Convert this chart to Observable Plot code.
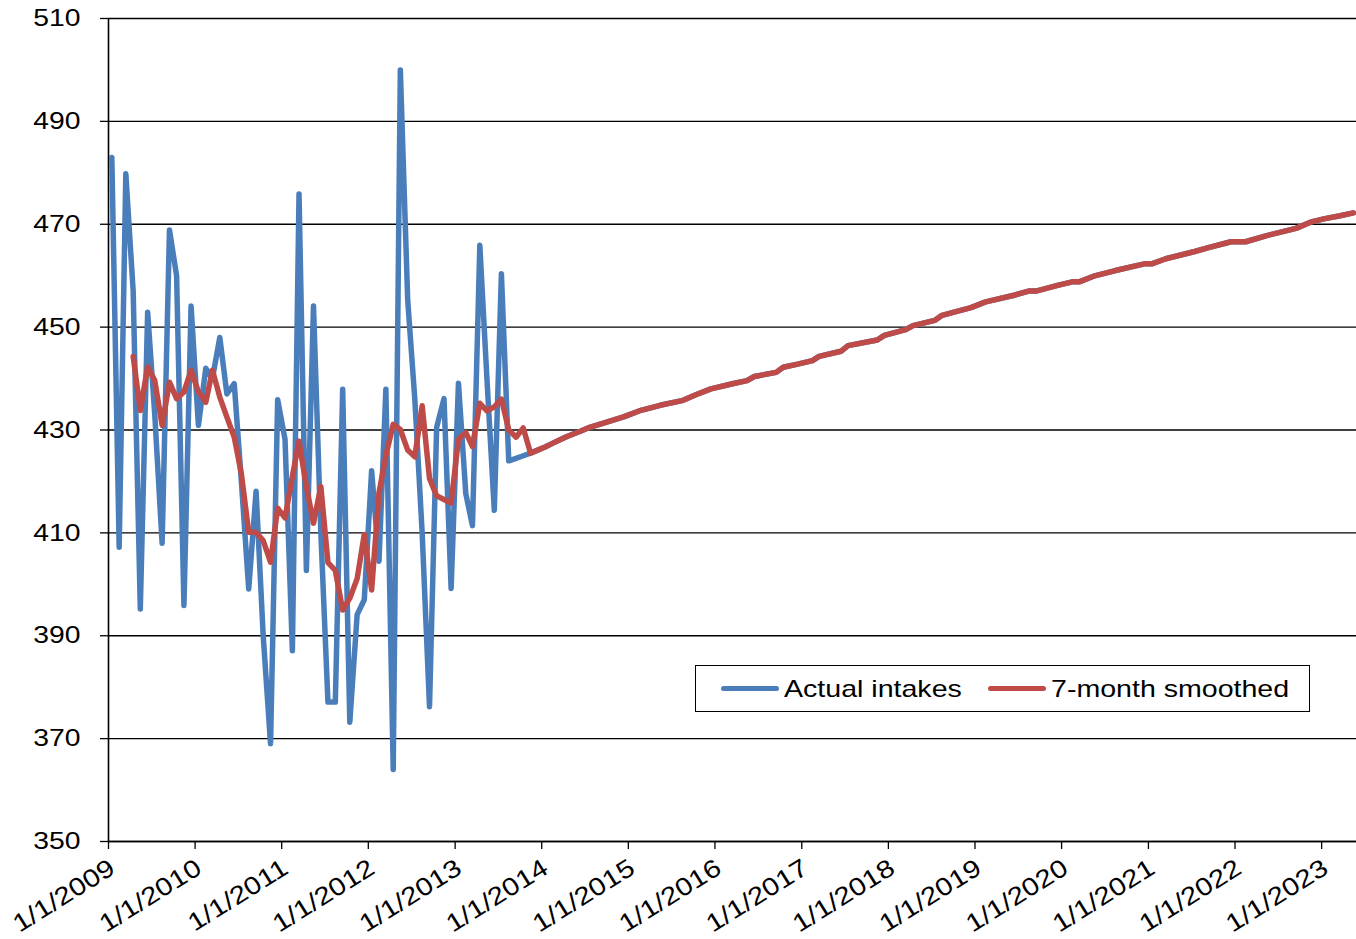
<!DOCTYPE html>
<html>
<head>
<meta charset="utf-8">
<script src="https://cdn.jsdelivr.net/npm/d3@7"></script>
<script src="https://cdn.jsdelivr.net/npm/@observablehq/plot@0.6"></script>
<style>
  body { margin: 0; background: #fff; }
  #wrap { position: relative; width: 1356px; height: 939px; font-family: "Liberation Sans", Arial, sans-serif; }
  #legend { position: absolute; left: 695px; top: 665px; width: 613px; height: 45px; border: 1.5px solid #000; background: #fff; }
  .item { position: absolute; top: 0; height: 45px; display: flex; align-items: center; }
  .sw { width: 58px; height: 5px; border-radius: 2.5px; }
  .lab { font-size: 24px; transform: scaleX(1.19); transform-origin: left center; white-space: nowrap; color: #000; margin-left: 5px; }
</style>
</head>
<body>
<div id="wrap">
  <div id="chart"></div>
  <div id="legend">
    <div class="item" style="left:25px"><div class="sw" style="background:#4A7EBB"></div><span class="lab">Actual intakes</span></div>
    <div class="item" style="left:292px"><div class="sw" style="background:#BE4B48"></div><span class="lab">7-month smoothed</span></div>
  </div>
</div>
<script>
// ---------- data ----------
const startYear = 2009;            // first month of the monthly series: January 2009
const actualIntakes = [            // monthly, Jan 2009 .. Oct 2013
  483.0, 407.2, 479.8, 457.0, 395.2, 452.9, 433.0, 408.0, 468.9, 460.0, 395.9, 454.1,
  430.9, 442.0, 440.0, 448.0, 437.0, 439.0, 420.0, 399.1, 418.1, 390.0, 369.0, 435.9,
  428.2, 387.1, 475.9, 402.7, 454.1, 410.0, 377.1, 377.1, 437.9, 373.2, 394.1, 397.0,
  422.1, 404.5, 437.9, 364.0, 500.0, 455.3, 436.0, 410.0, 376.2, 430.5, 436.1, 399.2,
  439.1, 417.6, 411.4, 465.9, 440.0, 414.4, 460.4, 424.0, 424.5, 425.0
];
const smoothedFirstMonth = 3;      // smoothed series starts April 2009
const smoothed = [                 // monthly, Apr 2009 .. Oct 2013
  444.3, 433.8, 442.3, 439.6, 430.9, 439.3, 436.1, 437.4, 441.6,
  437.4, 435.4, 441.6, 436.4, 432.5, 428.6, 421.5, 410.1, 410.1, 408.5, 404.3, 414.8,
  412.9, 421.0, 427.8, 419.0, 411.9, 419.0, 404.2, 402.7, 395.0, 397.3, 401.1, 409.7,
  398.9, 417.8, 425.0, 431.1, 430.1, 426.1, 424.8, 434.7, 420.6, 417.2, 416.5, 415.8,
  428.2, 429.5, 426.8, 435.2, 433.7, 434.5, 436.0, 430.0, 428.6, 430.4
];
const forecastMonths = [
  "2013-11","2014-01","2014-02","2014-04","2014-06","2014-07","2014-09","2014-12","2015-02","2015-05",
  "2015-08","2015-10","2015-12","2016-03","2016-05","2016-06","2016-09","2016-10","2016-12","2017-02",
  "2017-03","2017-06","2017-07","2017-11","2017-12","2018-03","2018-04","2018-07","2018-08","2018-12",
  "2019-02","2019-06","2019-08","2019-09","2019-12","2020-02","2020-03","2020-05","2020-08","2020-12",
  "2021-01","2021-03","2021-07","2021-09","2021-12","2022-02","2022-05","2022-09","2022-11","2023-01",
  "2023-03","2023-05"
];
const forecastValues = [
  425.5, 426.7, 427.4, 428.7, 429.8, 430.4, 431.3, 432.6, 433.7, 434.8,
  435.7, 436.9, 438.0, 439.0, 439.6, 440.4, 441.2, 442.2, 442.8, 443.5,
  444.3, 445.3, 446.4, 447.5, 448.4, 449.5, 450.3, 451.3, 452.3, 453.8,
  454.9, 456.2, 457.0, 457.0, 458.1, 458.8, 458.8, 459.9, 461.0, 462.3,
  462.3, 463.3, 464.7, 465.5, 466.6, 466.6, 467.8, 469.2, 470.4, 471.1,
  471.6, 472.2
];
const yTicks = [350, 370, 390, 410, 430, 450, 470, 490, 510];
const tickYears = [2009,2010,2011,2012,2013,2014,2015,2016,2017,2018,2019,2020,2021,2022,2023];

// ---------- build tables ----------
const monthDate = (i) => new Date(Date.UTC(startYear, i, 15));
const parseMonth = (s) => { const [y, m] = s.split("-").map(Number); return new Date(Date.UTC(y, m - 1, 15)); };
const forecast = forecastMonths.map((m, i) => ({date: parseMonth(m), value: forecastValues[i]}));
const blueData = actualIntakes.map((v, i) => ({date: monthDate(i), value: v})).concat(forecast);
const redData = smoothed.map((v, i) => ({date: monthDate(i + smoothedFirstMonth), value: v})).concat(forecast);
const xTicks = tickYears.map(y => new Date(Date.UTC(y, 0, 1)));
const xStart = new Date(Date.UTC(2009, 0, 1));
const xEnd = new Date(Date.UTC(2023, 4, 28));

const chart = Plot.plot({
  width: 1356, height: 939,
  marginTop: 18, marginRight: 0, marginBottom: 98, marginLeft: 108,
  style: {fontFamily: "'Liberation Sans', Arial, sans-serif", fontSize: "24px", color: "#000", background: "#fff", overflow: "visible"},
  x: {type: "utc", domain: [xStart, xEnd]},
  y: {domain: [350, 510]},
  marks: [
    Plot.gridY(yTicks, {stroke: "#000", strokeOpacity: 1, strokeWidth: 1.3}),
    Plot.ruleX([xStart], {stroke: "#000", strokeWidth: 1.6}),
    Plot.ruleY([350], {stroke: "#000", strokeWidth: 1.6}),
    Plot.axisY(yTicks, {tickSize: 8, tickPadding: 20, stroke: "#000", strokeWidth: 1.3, label: null, fontSize: 24, tickFormat: d => String(d)}),
    // x tick marks
    Plot.axisX(xTicks, {tickSize: 8, tickFormat: () => "", label: null, stroke: "#000", strokeWidth: 1.3}),
    // x tick labels
    Plot.axisX(xTicks, {tickSize: 0, tickPadding: 24, dx: 4, tickRotate: -32, tickFormat: d => `1/1/${d.getUTCFullYear()}`, label: null, fontSize: 25}),
    Plot.line(blueData, {x: "date", y: "value", stroke: "#4A7EBB", strokeWidth: 5.5, strokeLinejoin: "round", strokeLinecap: "round"}),
    Plot.line(redData, {x: "date", y: "value", stroke: "#BE4B48", strokeWidth: 5.5, strokeLinejoin: "round", strokeLinecap: "round"})
  ]
});

// stretch text horizontally (about each text's anchor) to match the wider lettering of the original
chart.querySelectorAll("text").forEach(t => {
  const x = parseFloat(t.getAttribute("x"));
  const ax = Number.isFinite(x) ? x : 0;
  const tr = t.getAttribute("transform") || "";
  t.setAttribute("transform", `${tr} translate(${ax},0) scale(1.18,1) translate(${-ax},0)`);
});
document.getElementById("chart").appendChild(chart);
</script>
</body>
</html>
